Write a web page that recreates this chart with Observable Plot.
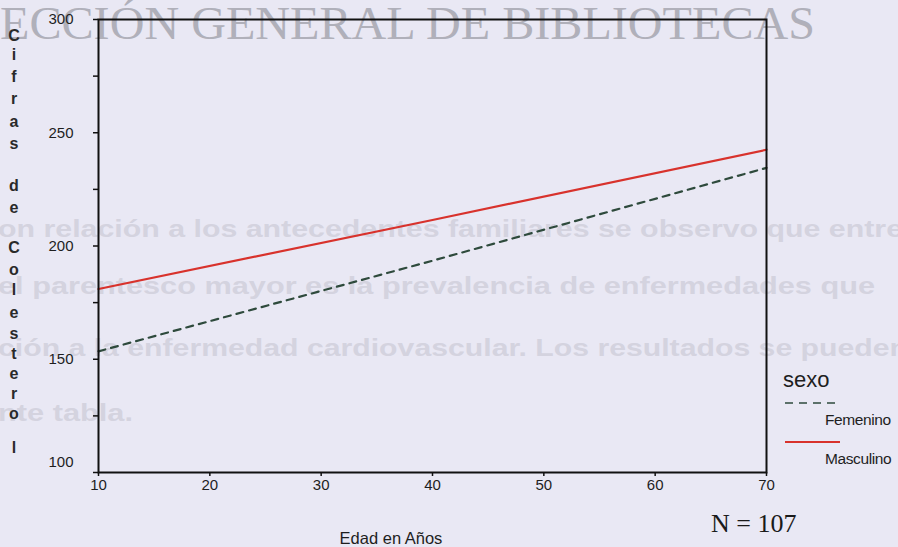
<!DOCTYPE html>
<html>
<head>
<meta charset="utf-8">
<script src="https://cdn.jsdelivr.net/npm/d3@7"></script>
<script src="https://cdn.jsdelivr.net/npm/@observablehq/plot@0.6"></script>
<style>
  html, body { margin: 0; padding: 0; background: #e9e8f4; }
  #wrap { position: relative; width: 898px; height: 547px; overflow: hidden; background: #e9e8f4; font-family: "Liberation Sans", Arial, sans-serif; }
  #bg { position: absolute; left: 0; top: 0; }
  #chart { position: absolute; left: 0; top: 0; }
</style>
</head>
<body>
<div id="wrap">
  <svg id="bg" width="898" height="547"></svg>
  <div id="chart"></div>
</div>
<script>
// ---- data ----
const ages = [10, 40, 70];
const masculino = [181, 211.5, 242.5];
const femenino = [153.5, 193.5, 234.5];
const series = ["Femenino", "Masculino"];
const xTicks = [10, 20, 30, 40, 50, 60, 70];
const yMinorTicks = [100, 125, 150, 175, 200, 225, 250, 275, 300];
const yLabelTicks = [150, 200, 250, 300];
const yLowTick = [100];
const yTitle = "Cifras de Colesterol";
const xTitle = "Edad en Años";
const legendTitle = "sexo";
const nLabel = "N = 107";
const watermark = "ECCIÓN GENERAL DE BIBLIOTECAS";
const bleedLines = [
  "on relación a los antecedentes familiares se observo que entre",
  "el parentesco mayor es la prevalencia de enfermedades que",
  "ción a la enfermedad cardiovascular.  Los resultados se pueden",
  "nte tabla."
];

const femRows = ages.map((a, i) => ({edad: a, valor: femenino[i], sexo: series[0]}));
const mascRows = ages.map((a, i) => ({edad: a, valor: masculino[i], sexo: series[1]}));

// ---- bleed-through page text (background) ----
const bg = d3.select("#bg");
bg.append("text").attr("x", 0).attr("y", 39)
  .attr("font-family", "Liberation Serif, Times New Roman, serif")
  .attr("font-size", 46).attr("fill", "#b0b0ba")
  .attr("textLength", 815).attr("lengthAdjust", "spacingAndGlyphs")
  .text(watermark);
const bleedY = [237, 294, 356, 421];
const bleedW = [905, 877, 910, 135];
bleedLines.forEach((t, i) => {
  bg.append("text").attr("x", -2).attr("y", bleedY[i])
    .attr("font-family", "Liberation Sans, Arial, sans-serif")
    .attr("font-weight", "bold")
    .attr("font-size", 24).attr("fill", "#d4d3df")
    .attr("textLength", bleedW[i]).attr("lengthAdjust", "spacingAndGlyphs")
    .text(t);
});

// ---- chart ----
const tickFont = {fontSize: 15, fill: "#1e1e1e"};
const chart = Plot.plot({
  width: 898,
  height: 547,
  marginLeft: 98,
  marginRight: 132,
  marginTop: 19,
  marginBottom: 75,
  style: {background: "transparent", fontFamily: "Liberation Sans, Arial, sans-serif", color: "#1e1e1e", fontSize: "15px"},
  x: {domain: [10, 70], label: null},
  y: {domain: [100, 300], label: null},
  color: {domain: series, range: ["#2e4a3c", "#d8322c"]},
  marks: [
    Plot.line(femRows, {x: "edad", y: "valor", stroke: "sexo", strokeWidth: 2.2, strokeDasharray: "7,6"}),
    Plot.line(mascRows, {x: "edad", y: "valor", stroke: "sexo", strokeWidth: 2.2}),
    Plot.axisY({ticks: yMinorTicks, tickSize: 5, tickFormat: () => "", label: null, stroke: "#111", strokeWidth: 1.5}),
    Plot.axisY({ticks: yLabelTicks, tickSize: 0, tickPadding: 10, dx: -15, label: null, ...tickFont, style: {letterSpacing: "-0.4px"}}),
    Plot.axisY({ticks: yLowTick, tickSize: 0, tickPadding: 10, dx: -15, dy: -10, label: null, ...tickFont, style: {letterSpacing: "-0.4px"}}),
    Plot.axisX({ticks: xTicks, tickSize: 4, tickPadding: 3, label: null, stroke: "#111", strokeWidth: 1.5, ...tickFont, style: {letterSpacing: "-0.4px"}}),
    Plot.frame({stroke: "#111", strokeWidth: 2})
  ]
});
document.getElementById("chart").appendChild(chart);

// ---- legend (drawn with the chart's colour scale) ----
const leg = d3.select(chart);
const col = chart.scale("color");
leg.append("text").attr("x", 783).attr("y", 387).attr("text-anchor", "start").attr("font-size", 22)
  .attr("fill", "#1e1e1e").text(legendTitle);
const legRows = [{y: 403, ty: 425, s: series[0], dash: "8,6", w: 1.6}, {y: 442, ty: 464, s: series[1], dash: null, w: 2.2}];
legRows.forEach(r => {
  leg.append("line").attr("x1", 785).attr("x2", 840).attr("y1", r.y).attr("y2", r.y)
    .attr("stroke", col.apply(r.s)).attr("stroke-width", r.w).attr("stroke-dasharray", r.dash);
  leg.append("text").attr("x", 825).attr("y", r.ty).attr("text-anchor", "start").attr("font-size", 15.5)
    .attr("letter-spacing", "-0.4").attr("fill", "#1e1e1e").text(r.s);
});
// N label and x title
leg.append("text").attr("x", 711).attr("y", 532).attr("text-anchor", "start")
  .attr("font-family", "Liberation Serif, Times New Roman, serif")
  .attr("font-size", 26).attr("fill", "#1a1a1a").text(nLabel);
leg.append("text").attr("x", 391).attr("y", 544).attr("text-anchor", "middle").attr("font-size", 16.5)
  .attr("fill", "#1e1e1e").text(xTitle);

// ---- vertical stacked y title ----
const letterY = [35, 54, 76, 98, 121, 143, null, 185, 207, null, 247, 269, 289, 312, 333, 353, 373, 393, 413, 447];
yTitle.split("").forEach((ch, i) => {
  if (ch === " " || letterY[i] == null) return;
  leg.append("text").attr("x", 14).attr("y", letterY[i] + 6).attr("text-anchor", "middle")
    .attr("font-size", 16).attr("font-weight", "bold").attr("fill", "#2a2a2a").text(ch);
});
</script>
</body>
</html>
